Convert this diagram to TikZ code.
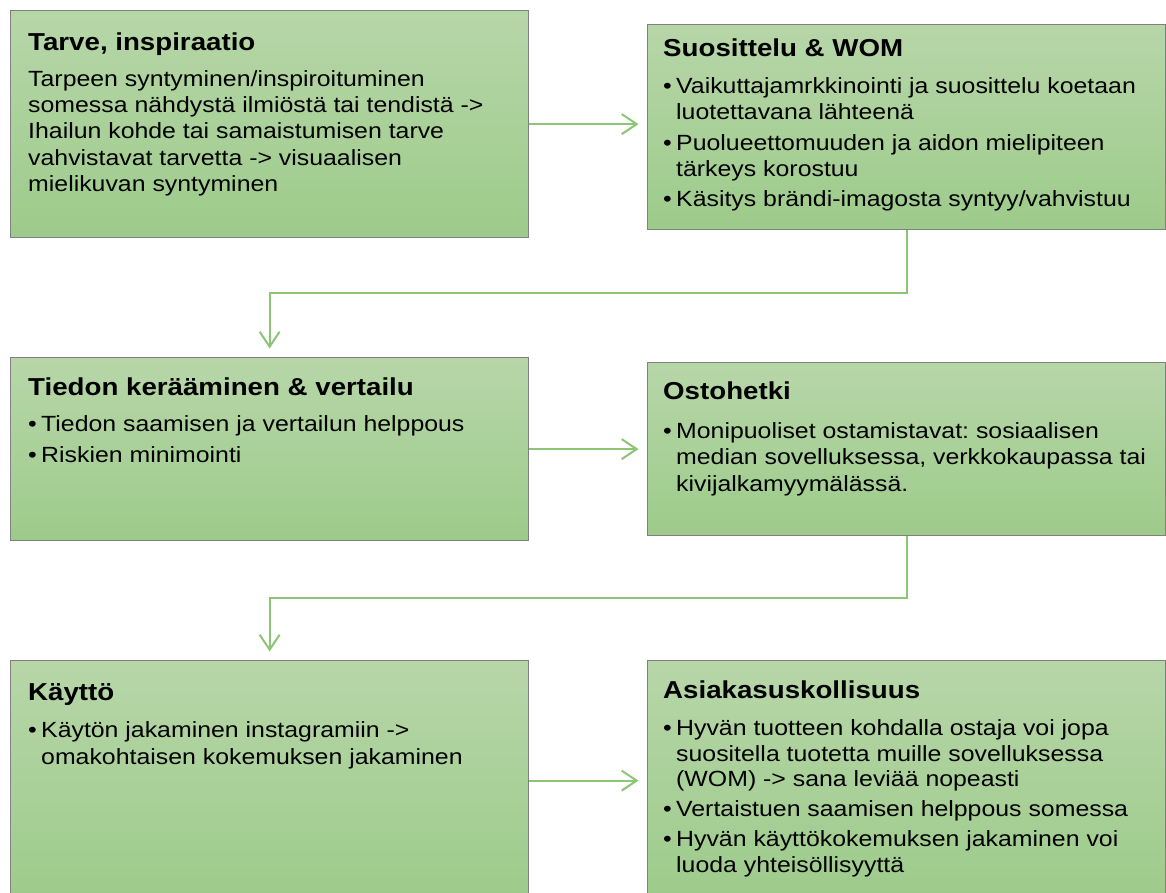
\documentclass[tikz,border=0pt]{standalone}
\usepackage{fontspec}
\setmainfont{Liberation Sans}[FakeStretch=1.13]
\usetikzlibrary{arrows.meta}
\frenchspacing

\definecolor{boxtop}{RGB}{183,214,168}
\definecolor{boxbot}{RGB}{157,203,139}
\definecolor{boxline}{RGB}{128,128,128}
\definecolor{linkgreen}{RGB}{140,197,118}

% bullet lines with a hanging indent
\newlength{\bulletindent}\setlength{\bulletindent}{13pt}
\newcommand{\bitem}[1]{\makebox[\bulletindent][l]{\textbullet}#1}
\newcommand{\bcont}[1]{\hspace*{\bulletindent}#1}
\newcommand{\bodytext}[2]{\parbox[t]{500pt}{\fontsize{22}{#1}\selectfont #2}}

\tikzset{
  stage/.style={draw=boxline, line width=1.2pt, top color=boxtop, bottom color=boxbot,
                inner sep=0pt, minimum width=518pt, anchor=north west},
  head/.style={anchor=base west, inner sep=0pt, font=\fontsize{24.5}{28}\selectfont\bfseries},
  body/.style={anchor=base west, inner sep=0pt},
  link/.style={draw=linkgreen, line width=2pt,
               -{Straight Barb[length=15pt,width=20pt]}, shorten >=8.5pt},
}

\begin{document}
\begin{tikzpicture}[x=1pt, y=-1pt]
\clip (0,0) rectangle (1166,893);
\fill[white] (0,0) rectangle (1166,893);

% stage boxes
\node[stage, minimum height=227pt] (b1) at (10,10) {};
\node[stage, minimum height=205pt] (b2) at (647,24) {};
\node[stage, minimum height=183pt] (b3) at (10,357) {};
\node[stage, minimum height=173pt] (b4) at (647,362) {};
\node[stage, minimum height=240pt] (b5) at (10,660) {};
\node[stage, minimum height=240pt] (b6) at (647,660) {};

% box 1
\node[head] (h1) at (28,51) {Tarve, inspiraatio};
\node[body] (t1) at (28,86.5) {\bodytext{26.25}{%
Tarpeen syntyminen/inspiroituminen\\
somessa nähdystä ilmiöstä tai tendistä ->\\
Ihailun kohde tai samaistumisen tarve\\
vahvistavat tarvetta -> visuaalisen\\
mielikuvan syntyminen}};

% box 2
\node[head] (h2) at (663,57) {Suosittelu \& WOM};
\node[body] (t2) at (663,94) {\bodytext{26}{%
\bitem{Vaikuttajamrkkinointi ja suosittelu koetaan}\\
\bcont{luotettavana lähteenä}\\[4.5pt]
\bitem{Puolueettomuuden ja aidon mielipiteen}\\
\bcont{tärkeys korostuu}\\[4.5pt]
\bitem{Käsitys brändi-imagosta syntyy/vahvistuu}}};

% box 3
\node[head] (h3) at (28,395) {Tiedon kerääminen \& vertailu};
\node[body] (t3) at (28,431.5) {\bodytext{26}{%
\bitem{Tiedon saamisen ja vertailun helppous}\\[4.5pt]
\bitem{Riskien minimointi}}};

% box 4
\node[head] (h4) at (663,399) {Ostohetki};
\node[body] (t4) at (663,438) {\bodytext{26.8}{%
\bitem{Monipuoliset ostamistavat: sosiaalisen}\\
\bcont{median sovelluksessa, verkkokaupassa tai}\\
\bcont{kivijalkamyymälässä.}}};

% box 5
\node[head] (h5) at (28,700) {Käyttö};
\node[body] (t5) at (28,737.5) {\bodytext{26.5}{%
\bitem{Käytön jakaminen instagramiin ->}\\
\bcont{omakohtaisen kokemuksen jakaminen}}};

% box 6
\node[head] (h6) at (663,698) {Asiakasuskollisuus};
\node[body] (t6) at (663,735.5) {\bodytext{25.7}{%
\bitem{Hyvän tuotteen kohdalla ostaja voi jopa}\\
\bcont{suositella tuotetta muille sovelluksessa}\\
\bcont{(WOM) -> sana leviää nopeasti}\\[4pt]
\bitem{Vertaistuen saamisen helppous somessa}\\[4pt]
\bitem{Hyvän käyttökokemuksen jakaminen voi}\\
\bcont{luoda yhteisöllisyyttä}}};

% connectors
\coordinate (j1) at (0,293);
\coordinate (j2) at (0,597.5);
\draw[link] (b1.east) -- (b1.east -| b2.west);
\draw[link] (b3.east) -- (b3.east -| b4.west);
\draw[link] (b5.east) -- (b5.east -| b6.west);
\draw[link] (b2.south) -- (b2.south |- j1) -- (b3.north |- j1) -- (b3.north);
\draw[link] (b4.south) -- (b4.south |- j2) -- (b5.north |- j2) -- (b5.north);
\end{tikzpicture}
\end{document}
